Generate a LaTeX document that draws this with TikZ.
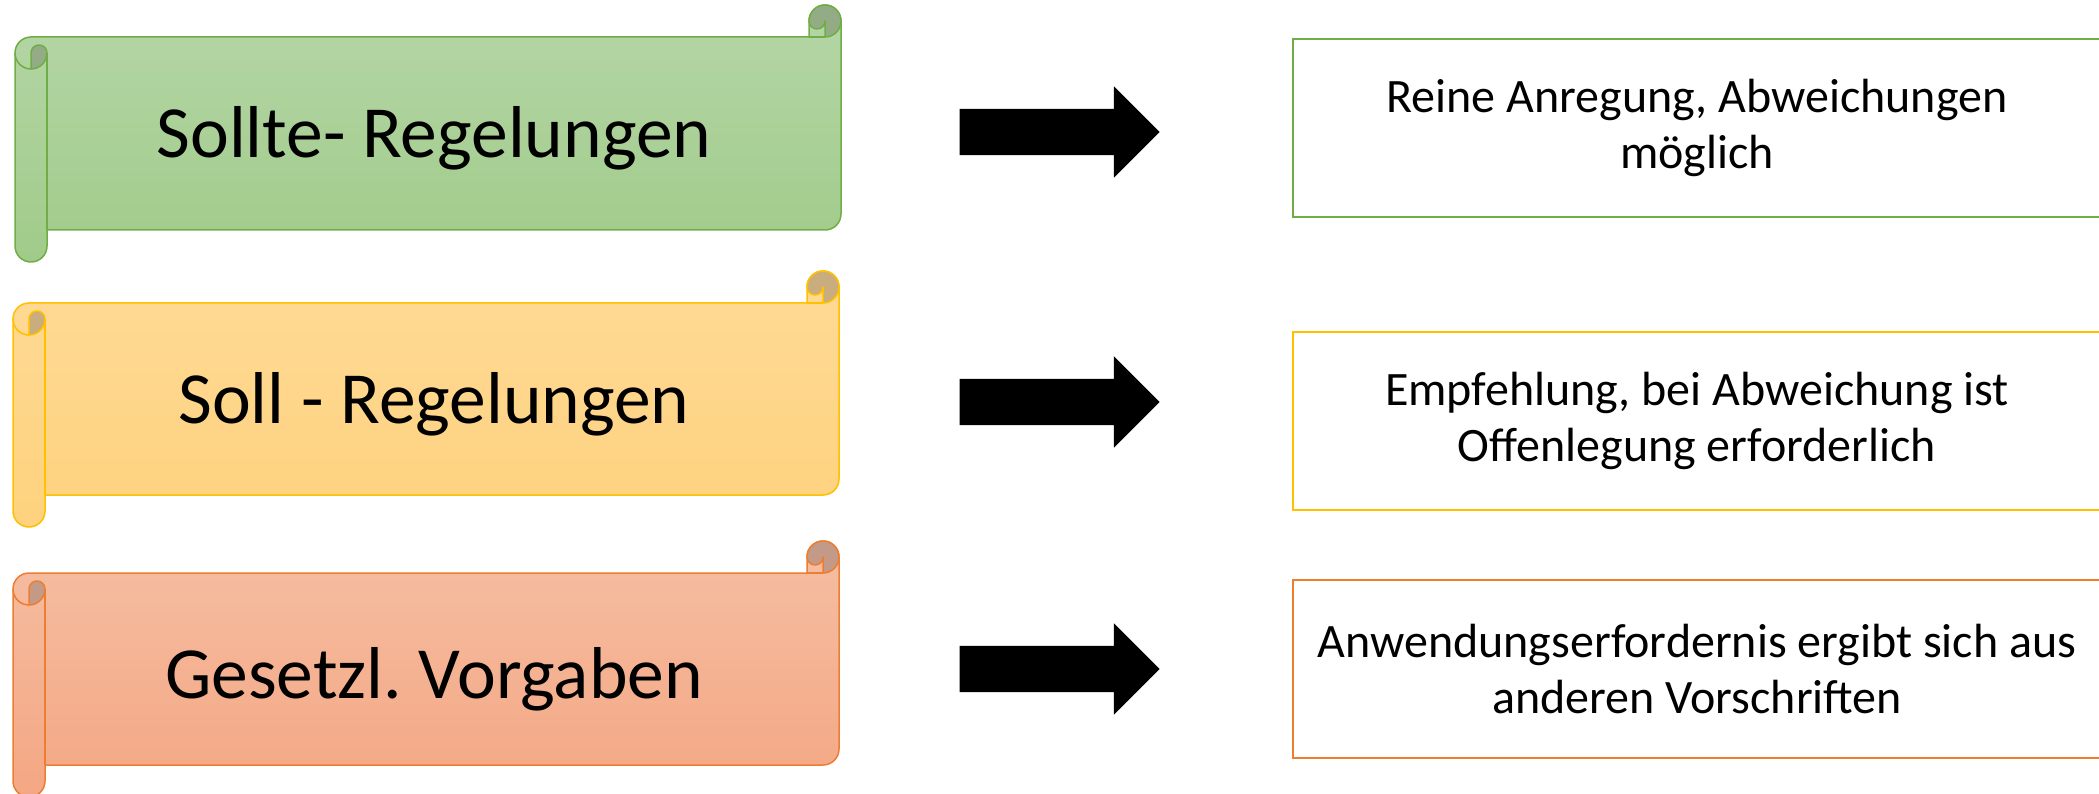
\documentclass[tikz,border=0pt]{standalone}
\usepackage{fontspec}
\setmainfont{Carlito}
\usetikzlibrary{shapes.arrows}

\definecolor{gruenRand}{HTML}{70AD47}
\definecolor{gruenOben}{HTML}{B5D6A7}
\definecolor{gruenUnten}{HTML}{A0CB89}
\definecolor{gruenDunkel}{HTML}{93AC85}
\definecolor{gelbRand}{HTML}{FFC000}
\definecolor{gelbOben}{HTML}{FFDA96}
\definecolor{gelbUnten}{HTML}{FED27E}
\definecolor{gelbDunkel}{HTML}{C9AD7E}
\definecolor{orangeRand}{HTML}{ED7D31}
\definecolor{orangeOben}{HTML}{F5BEA3}
\definecolor{orangeUnten}{HTML}{F4A783}
\definecolor{orangeDunkel}{HTML}{C39A88}

\tikzstyle{scrolltext} = [inner sep=0pt, font=\fontsize{73.5}{88}\selectfont]
\tikzstyle{blockarrow} = [single arrow, fill=black, inner xsep=0pt, inner ysep=23pt, minimum height=200pt, single arrow head extend=22.5pt, single arrow tip angle=90, xshift=-11pt]
\tikzstyle{infobox} = [rectangle, minimum width=808pt, minimum height=178pt, line width=2.5pt, align=center, font=\fontsize{48}{56}\selectfont]
\tikzstyle{scrollline} = [line width=1.5pt, line join=round]

% scroll: left, top, right, bottom, colour prefix
\newcommand{\scrollbanner}[5]{%
  \draw[scrollline, draw=#5Rand, top color=#5Oben, bottom color=#5Unten]
    ({#1+16},{#2+32}) -- ({#3-32},{#2+32}) -- ({#3-32},{#2+16})
    arc[start angle=180, end angle=360, radius=16] -- (#3,{#4-48})
    arc[start angle=0, end angle=90, radius=16] -- ({#1+32},{#4-32}) -- ({#1+32},{#4-16})
    arc[start angle=0, end angle=180, radius=16] -- (#1,{#2+48})
    arc[start angle=180, end angle=270, radius=16] -- cycle;
  \draw[scrollline, draw=#5Rand] ({#1+32},{#2+48}) -- ({#1+32},{#4-32});
  \draw[scrollline, draw=#5Rand] ({#3-32},{#2+32}) -- ({#3-16},{#2+32});
  \draw[scrollline, draw=#5Rand] (#1,{#2+48}) arc[start angle=180, end angle=90, radius=16];
  \draw[scrollline, draw=#5Rand, fill=#5Dunkel] ({#1+16},{#2+48}) -- ({#1+16},{#2+64})
    arc[start angle=90, end angle=0, radius=16] arc[start angle=360, end angle=180, radius=8] -- cycle;
  \draw[scrollline, draw=#5Rand, fill=#5Dunkel] ({#3-16},{#2+32})
    arc[start angle=90, end angle=-180, radius=16] arc[start angle=180, end angle=0, radius=8] -- cycle;
}

\begin{document}
\begin{tikzpicture}[x=1pt, y=-1pt, node distance=625pt]
	\useasboundingbox (0,0) rectangle (2099,794);
	% scrolls
	\scrollbanner{15}{5}{841}{262}{gruen}
	\scrollbanner{13}{271}{839}{527}{gelb}
	\scrollbanner{13}{541}{839}{797}{orange}
	\node (sollte) [scrolltext] at (434,138) {Sollte- Regelungen};
	\node (soll) [scrolltext] at (434,404) {Soll - Regelungen};
	\node (gesetz) [scrolltext] at (434,679) {Gesetzl.\ Vorgaben};
	% arrows
	\node (pfeilA) [blockarrow, right of=sollte, yshift=6pt] {};
	\node (pfeilB) [blockarrow, right of=soll, yshift=2pt] {};
	\node (pfeilC) [blockarrow, right of=gesetz, yshift=10pt] {};
	% boxes
	\node (boxA) [infobox, draw=gruenRand, right of=pfeilA, xshift=24pt, yshift=4pt] {Reine Anregung, Abweichungen\\möglich};
	\node (boxB) [infobox, draw=gelbRand, right of=pfeilB, xshift=24pt, yshift=-19pt] {Empfehlung, bei Abweichung ist\\Offenlegung erforderlich};
	\node (boxC) [infobox, draw=orangeRand, right of=pfeilC, xshift=24pt] {Anwendungserfordernis ergibt sich aus\\anderen Vorschriften};
\end{tikzpicture}
\end{document}
